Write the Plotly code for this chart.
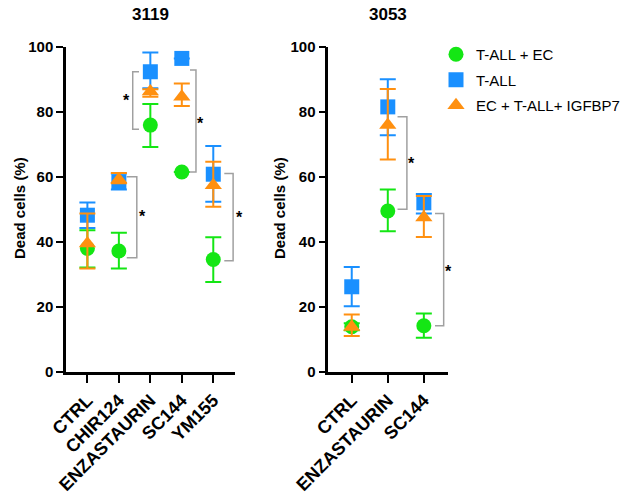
import plotly.graph_objects as go

W, H = 629, 494
FONT = "Arial, Liberation Sans, sans-serif"

# ---------------- data ----------------
series_names = ["T-ALL + EC", "T-ALL", "EC + T-ALL+ IGFBP7"]
series_colors = ["#14e614", "#1a90ff", "#ff9010"]
series_symbols = ["circle", "square", "triangle-up"]

# Panel 3119
cats_3119 = ["CTRL", "CHIR124", "ENZASTAURIN", "SC144", "YM155"]
mean_3119 = [
    [38.0, 37.2, 75.9, 61.5, 34.6],   # T-ALL + EC
    [48.2, 58.5, 92.3, 96.4, 60.8],   # T-ALL
    [39.5, 59.2, 86.2, 84.6, 57.4],   # EC + T-ALL+ IGFBP7
]
hi_3119 = [
    [43.6, 42.8, 82.4, 61.5, 41.4],
    [52.1, 61.0, 98.2, 96.4, 69.5],
    [48.7, 61.2, 86.9, 88.7, 64.6],
]
lo_3119 = [
    [32.1, 31.8, 69.2, 61.5, 27.7],
    [44.3, 56.1, 87.2, 96.4, 52.3],
    [31.8, 58.0, 84.6, 81.8, 50.8],
]

# Panel 3053
cats_3053 = ["CTRL", "ENZASTAURIN", "SC144"]
mean_3053 = [
    [13.9, 49.5, 14.2],
    [26.2, 81.5, 52.0],
    [13.8, 75.9, 47.5],
]
hi_3053 = [
    [15.0, 56.1, 18.0],
    [32.3, 90.0, 54.7],
    [17.7, 87.0, 54.1],
]
lo_3053 = [
    [12.8, 43.3, 10.5],
    [20.2, 72.8, 48.7],
    [11.1, 65.3, 41.5],
]

# significance brackets: (x of vertical line, y top, y bottom, stub end x, star x, star y) in data units
brackets_3119 = [
    (1.44, 92.3, 74.6, 1.64, 1.25, 83.6),
    (1.57, 60.0, 35.1, 1.25, 1.74, 47.7),
    (3.45, 92.8, 61.5, 3.26, 3.59, 76.4),
    (4.63, 61.0, 34.2, 4.35, 4.82, 47.4),
]
brackets_3053 = [
    (1.53, 78.5, 50.0, 1.27, 1.67, 64.1),
    (2.55, 48.7, 14.2, 2.31, 2.69, 30.8),
]

y_ticks = [0, 20, 40, 60, 80, 100]

XDOM1 = [66 / W, 235 / W]
XDOM2 = [328.3 / W, 448 / W]
XR1 = [-0.68, 4.69]
XR2 = [-0.65, 2.67]
YDOM = [122 / H, 447.3 / H]
YR = [0, 100]

fig = go.Figure()


def to_paper(v, dom, rng):
    return dom[0] + (v - rng[0]) / (rng[1] - rng[0]) * (dom[1] - dom[0])


def add_panel(cats, means, his, los, xa, ya, showlegend):
    xs = list(range(len(cats)))
    for i in range(3):
        plus = [h - m for h, m in zip(his[i], means[i])]
        minus = [m - l for m, l in zip(means[i], los[i])]
        fig.add_trace(go.Scatter(
            x=xs, y=means[i], mode="markers", name=series_names[i],
            legendgroup=series_names[i], showlegend=showlegend,
            marker=dict(symbol=series_symbols[i], size=15, color=series_colors[i], line=dict(width=0)),
            error_y=dict(type="data", symmetric=False, array=plus, arrayminus=minus,
                         color=series_colors[i], thickness=2, width=8),
            xaxis=xa, yaxis=ya, cliponaxis=False,
        ))


def add_brackets(brs, xa, ya, xdom, xr):
    for (xv, yt, yb, xs_, sx, sy) in brs:
        fig.add_trace(go.Scatter(
            x=[xs_, xv, xv, xs_], y=[yt, yt, yb, yb], mode="lines",
            line=dict(color="#a0a0a0", width=1.5), showlegend=False, hoverinfo="skip",
            xaxis=xa, yaxis=ya, cliponaxis=False,
        ))
        fig.add_annotation(x=to_paper(sx, xdom, xr), y=to_paper(sy, YDOM, YR),
                           xref="paper", yref="paper", text="*", showarrow=False,
                           xanchor="center", yanchor="middle",
                           font=dict(family=FONT, size=16, color="black", weight="bold"))


add_brackets(brackets_3119, "x", "y", XDOM1, XR1)
add_brackets(brackets_3053, "x2", "y2", XDOM2, XR2)
add_panel(cats_3119, mean_3119, hi_3119, lo_3119, "x", "y", True)
add_panel(cats_3053, mean_3053, hi_3053, lo_3053, "x2", "y2", False)

axis_common = dict(showline=True, linecolor="black", linewidth=2.5, ticks="outside",
                   tickwidth=2, tickcolor="black", showgrid=False, zeroline=False,
                   automargin=False)
xfont = dict(family=FONT, size=18, color="black", weight="bold")
yfont = dict(family=FONT, size=15, color="black", weight="bold")

fig.update_layout(
    width=W, height=H, margin=dict(l=0, r=0, t=0, b=0, autoexpand=False),
    plot_bgcolor="white", paper_bgcolor="white",
    xaxis=dict(domain=XDOM1, range=XR1, tickmode="array",
               tickvals=list(range(len(cats_3119))), ticktext=cats_3119, tickangle=-45,
               tickfont=xfont, anchor="y", ticklen=8, **axis_common),
    yaxis=dict(domain=YDOM, range=YR, tickvals=y_ticks, anchor="x",
               tickfont=yfont, ticklen=7, **axis_common),
    xaxis2=dict(domain=XDOM2, range=XR2, tickmode="array",
                tickvals=list(range(len(cats_3053))), ticktext=cats_3053, tickangle=-45,
                tickfont=xfont, anchor="y2", ticklen=8, **axis_common),
    yaxis2=dict(domain=YDOM, range=YR, tickvals=y_ticks, anchor="x2",
                tickfont=yfont, ticklen=7, **axis_common),
    legend=dict(x=436 / W, y=1 - 38 / H, xanchor="left", yanchor="top",
                font=dict(family=FONT, size=15, color="black"),
                bgcolor="rgba(0,0,0,0)", tracegroupgap=3),
    showlegend=True,
)

# panel titles
fig.add_annotation(x=150 / W, y=1 - 14 / H, xref="paper", yref="paper", text="3119", showarrow=False,
                   xanchor="center", yanchor="middle",
                   font=dict(family=FONT, size=17, color="black", weight="bold"))
fig.add_annotation(x=388 / W, y=1 - 14 / H, xref="paper", yref="paper", text="3053", showarrow=False,
                   xanchor="center", yanchor="middle",
                   font=dict(family=FONT, size=17, color="black", weight="bold"))
# y-axis titles
for xp in (19, 279):
    fig.add_annotation(x=xp / W, y=1 - 208 / H, xref="paper", yref="paper", text="Dead cells (%)",
                       showarrow=False, textangle=-90, xanchor="center", yanchor="middle",
                       font=dict(family=FONT, size=15, color="black", weight="bold"))

fig.write_html("out.html")
